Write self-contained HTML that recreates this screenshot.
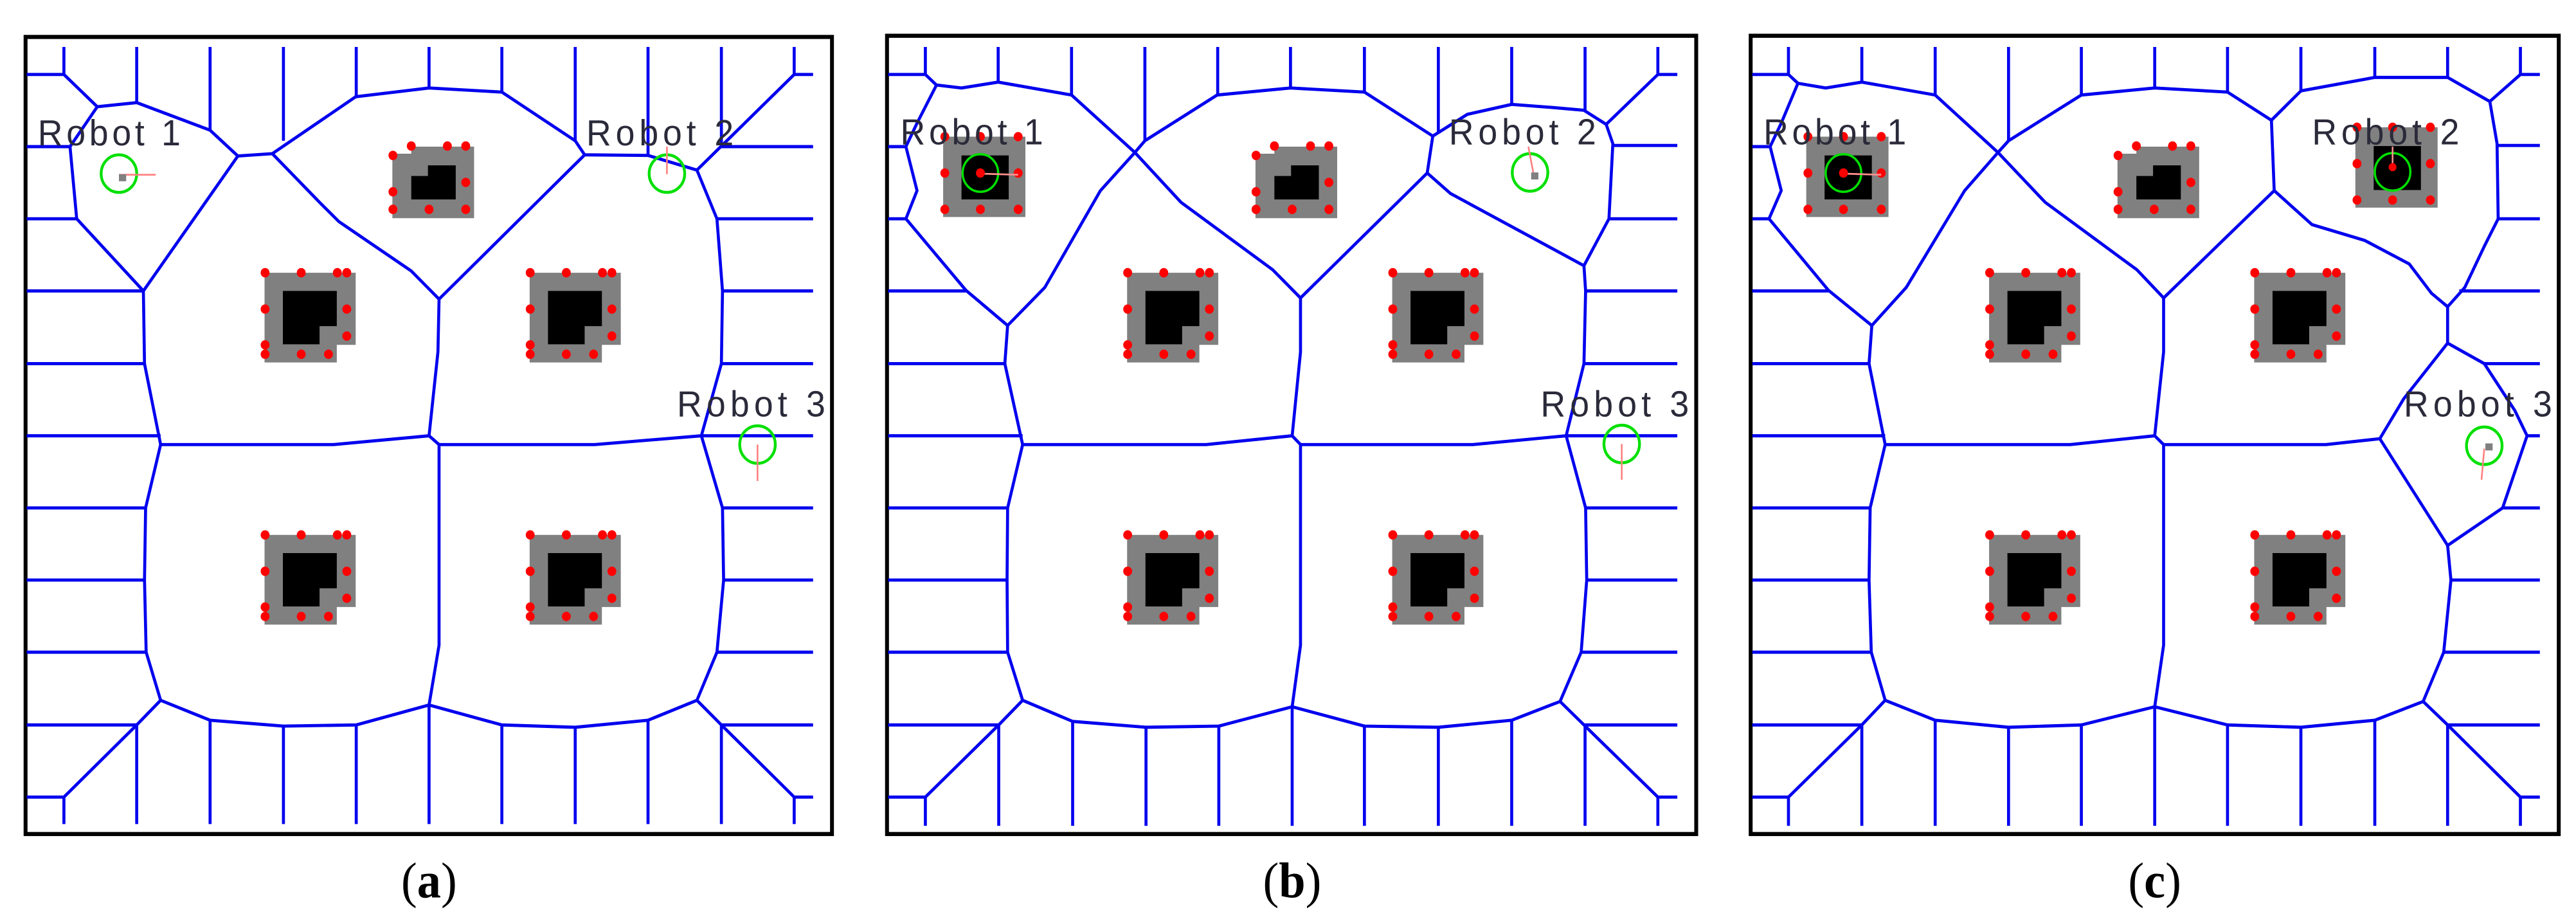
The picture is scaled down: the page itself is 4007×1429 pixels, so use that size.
<!DOCTYPE html>
<html><head><meta charset="utf-8"><style>
html,body{margin:0;padding:0;background:#fff;}
svg{display:block;}
</style></head><body>
<svg xmlns="http://www.w3.org/2000/svg" width="4007" height="1429" viewBox="0 0 4007 1429">
<defs>
<g id="L">
<path d="M0,0H164V123H130V153H0Z" fill="#808080"/>
<path d="M33,31H130V91H99V122H33Z" fill="#000"/>
<g fill="#f00"><circle cx="1" cy="0" r="8"/><circle cx="66" cy="0" r="8"/><circle cx="131" cy="0" r="8"/><circle cx="148" cy="0" r="8"/><circle cx="1" cy="62" r="8"/><circle cx="148" cy="62" r="8"/><circle cx="148" cy="108" r="8"/><circle cx="1" cy="123" r="8"/><circle cx="1" cy="139" r="8"/><circle cx="66" cy="139" r="8"/><circle cx="115" cy="139" r="8"/></g>
</g>
<g id="T">
<path d="M0,12H34V0H147V122H0Z" fill="#808080"/>
<path d="M34,50H64V32H114V90H34Z" fill="#000"/>
<g fill="#f00"><circle cx="1" cy="15" r="8"/><circle cx="34" cy="-1" r="8"/><circle cx="99" cy="-1" r="8"/><circle cx="132" cy="-1" r="8"/><circle cx="132" cy="61" r="8"/><circle cx="1" cy="77" r="8"/><circle cx="1" cy="107" r="8"/><circle cx="66" cy="107" r="8"/><circle cx="132" cy="107" r="8"/></g>
</g>
<g id="R">
<rect x="0" y="0" width="148" height="137" fill="#808080"/>
<rect x="33" y="32" width="85" height="75" fill="#000"/>
<g fill="#f00"><circle cx="3" cy="0" r="8"/><circle cx="67" cy="0" r="8"/><circle cx="135" cy="0" r="8"/><circle cx="3" cy="62" r="8"/><circle cx="135" cy="62" r="8"/><circle cx="3" cy="124" r="8"/><circle cx="67" cy="124" r="8"/><circle cx="135" cy="124" r="8"/></g>
</g>
</defs>

<!-- ============ PANEL A ============ -->
<g transform="translate(0,0) scale(0.8645,0.912)">
<rect x="46" y="63" width="1451" height="1359" fill="#fff" stroke="#000" stroke-width="7"/>
<use href="#T" x="706" y="250"/>
<use href="#L" x="476" y="465"/><use href="#L" x="953" y="465"/>
<use href="#L" x="476" y="912"/><use href="#L" x="953" y="912"/>
<g fill="none" stroke="#0000ee" stroke-width="5.4" stroke-linejoin="round">
<polyline points="48,127 115,127 175,182 246,175 378,222 428,266 490,262 640,165 772,150 903,157 1035,240 1052,264 1166,265 1254,290 1429,127 1463,127"/>
<polyline points="1254,290 1290,373 1300,496 1298,620 1262,743 1300,866 1302,989 1290,1112 1254,1194 1298,1236 1429,1359 1463,1359"/>
<polyline points="1254,1194 1166,1228 1035,1240 903,1236 772,1202 641,1236 510,1238 378,1228 289,1194 246,1236 115,1359 48,1359"/>
<polyline points="289,1194 263,1112 260,989 262,866 289,758 260,620 258,496 138,373 126,250 175,182"/>
<polyline points="258,496 428,266"/>
<polyline points="490,262 575,345 610,378 740,462 790,510 1052,264"/>
<polyline points="790,510 788,600 772,743 790,758 790,1100 772,1202"/>
<polyline points="289,758 600,758 772,743"/>
<polyline points="790,758 1070,758 1262,743"/>
<path d="M115,80V127M246,80V175M378,80V222M510,80V240M641,80V165M772,80V150M903,80V157M1035,80V240M1166,80V265M1298,80V250M1429,80V127"/>
<path d="M115,1405V1359M246,1405V1236M378,1405V1228M510,1405V1238M641,1405V1236M772,1405V1202M903,1405V1236M1035,1405V1240M1166,1405V1228M1298,1405V1236M1429,1405V1359"/>
<path d="M48,250H126M48,373H138M48,496H258M48,620H260M48,743H289M48,866H262M48,989H260M48,1112H263M48,1236H246"/>
<path d="M1298,250H1463M1290,373H1463M1300,496H1463M1298,620H1463M1262,743H1463M1300,866H1463M1302,989H1463M1290,1112H1463M1298,1236H1463"/>
</g>
<circle cx="214" cy="296" r="32" fill="none" stroke="#00e000" stroke-width="5"/>
<line x1="214" y1="298" x2="280" y2="298" stroke="#ff8080" stroke-width="3"/>
<rect x="214" y="297" width="13" height="12" fill="#808080"/>
<circle cx="1200" cy="296" r="32" fill="none" stroke="#00e000" stroke-width="5"/>
<line x1="1200" y1="250" x2="1200" y2="297" stroke="#ff8080" stroke-width="3"/>
<circle cx="1363" cy="758" r="32" fill="none" stroke="#00e000" stroke-width="5"/>
<line x1="1363" y1="758" x2="1363" y2="820" stroke="#ff8080" stroke-width="3"/>
<g font-family="Liberation Sans, sans-serif" font-size="62" fill="#2a2a3a">
<text x="68" y="248" textLength="257" lengthAdjust="spacing">Robot 1</text>
<text x="1055" y="248" textLength="265" lengthAdjust="spacing">Robot 2</text>
<text x="1218" y="710" textLength="267" lengthAdjust="spacing">Robot 3</text>
</g>
<text x="772" y="1530" text-anchor="middle" font-family="Liberation Serif, serif" font-size="86" fill="#000">(<tspan font-weight="bold">a</tspan>)</text>
</g>

<!-- ============ PANEL B ============ -->
<g transform="translate(1340,0) scale(0.8645,0.912)">
<rect x="46" y="61" width="1456" height="1361" fill="#fff" stroke="#000" stroke-width="7"/>
<use href="#T" x="709" y="250"/>
<use href="#L" x="478" y="465"/><use href="#L" x="955" y="465"/>
<use href="#L" x="478" y="912"/><use href="#L" x="955" y="912"/>
<use href="#R" x="147" y="233"/>
<g fill="none" stroke="#0000ee" stroke-width="5.4" stroke-linejoin="round">
<polyline points="48,127 115,127 135,145 180,150 246,140 378,162 492,260 575,345 740,460 790,508 1018,295 1028,232 905,157 772,150 640,162 510,240 492,260"/>
<polyline points="1028,232 1090,195 1170,178 1240,183 1300,188 1340,212 1433,127 1468,127"/>
<polyline points="1340,212 1352,245 1345,373 1300,453 1060,330 1018,295"/>
<polyline points="1300,453 1303,496 1300,620 1268,743 1303,866 1305,989 1295,1112 1257,1196 1300,1236 1433,1359 1468,1359"/>
<polyline points="1257,1196 1170,1228 1038,1240 905,1238 775,1205 643,1238 512,1240 380,1230 290,1194 247,1236 115,1359 48,1359"/>
<polyline points="290,1194 263,1112 262,989 263,866 290,758 258,620 263,555 188,495 80,373 100,325 80,250 100,210 135,145"/>
<polyline points="263,555 330,490 430,325 492,260"/>
<polyline points="790,508 790,600 775,743 790,758 790,1100 775,1205"/>
<polyline points="290,758 620,758 775,743"/>
<polyline points="790,758 1100,758 1268,743"/>
<path d="M115,80V127M246,80V140M378,80V162M510,80V240M641,80V162M772,80V150M905,80V157M1038,80V225M1170,80V178M1302,80V188M1433,80V127"/>
<path d="M115,1408V1359M247,1408V1236M380,1408V1230M512,1408V1240M643,1408V1238M775,1408V1205M905,1408V1238M1038,1408V1240M1170,1408V1228M1302,1408V1236M1433,1408V1359"/>
<path d="M48,250H80M48,373H80M48,496H188M48,620H258M48,743H290M48,866H263M48,989H262M48,1112H263M48,1236H247"/>
<path d="M1352,248H1468M1345,373H1468M1303,496H1468M1300,620H1468M1268,743H1468M1303,866H1468M1305,989H1468M1295,1112H1468M1300,1236H1468"/>
</g>
<circle cx="214" cy="295" r="32" fill="none" stroke="#00e000" stroke-width="4"/>
<line x1="214" y1="296" x2="282" y2="298" stroke="#ff9090" stroke-width="3"/>
<circle cx="214" cy="295" r="8" fill="#f00"/>
<circle cx="1203" cy="294" r="32" fill="none" stroke="#00e000" stroke-width="5"/>
<line x1="1200" y1="250" x2="1210" y2="300" stroke="#ff8080" stroke-width="3"/>
<rect x="1205" y="294" width="13" height="12" fill="#808080"/>
<circle cx="1368" cy="757" r="32" fill="none" stroke="#00e000" stroke-width="5"/>
<line x1="1368" y1="757" x2="1368" y2="818" stroke="#ff8080" stroke-width="3"/>
<g font-family="Liberation Sans, sans-serif" font-size="62" fill="#2a2a3a">
<text x="70" y="246" textLength="257" lengthAdjust="spacing">Robot 1</text>
<text x="1057" y="246" textLength="265" lengthAdjust="spacing">Robot 2</text>
<text x="1222" y="710" textLength="267" lengthAdjust="spacing">Robot 3</text>
</g>
<text x="775" y="1530" text-anchor="middle" font-family="Liberation Serif, serif" font-size="86" fill="#000">(<tspan font-weight="bold">b</tspan>)</text>
</g>

<!-- ============ PANEL C ============ -->
<g transform="translate(2667,0) scale(0.8645,0.912)">
<rect x="65" y="61" width="1454" height="1361" fill="#fff" stroke="#000" stroke-width="7"/>
<use href="#T" x="725" y="250"/>
<use href="#L" x="494" y="465"/><use href="#L" x="971" y="465"/>
<use href="#L" x="494" y="912"/><use href="#L" x="971" y="912"/>
<use href="#R" x="165" y="233"/>
<use href="#R" x="1153" y="217"/>
<g fill="none" stroke="#0000ee" stroke-width="5.4" stroke-linejoin="round">
<polyline points="68,127 133,127 150,142 200,150 265,140 397,162 510,260 595,345 760,460 808,508 1007,325 1002,205 923,157 792,150 660,162 529,240 510,260"/>
<polyline points="1002,205 1055,155 1188,132 1319,132 1395,173 1450,127 1485,127"/>
<polyline points="1007,325 1075,383 1170,410 1250,450 1290,500 1319,523 1350,490 1385,420 1410,373 1408,245 1395,173"/>
<polyline points="1319,523 1319,585 1385,620 1440,700 1462,743 1418,866 1319,930 1197,748 1240,680 1319,585"/>
<polyline points="1319,930 1325,989 1312,1112 1275,1196 1319,1236 1450,1359 1485,1359"/>
<polyline points="1275,1196 1188,1228 1055,1240 923,1236 792,1205 660,1236 529,1240 397,1228 307,1194 265,1236 133,1359 68,1359"/>
<polyline points="307,1194 282,1112 278,989 280,866 307,758 278,620 283,555 205,495 98,373 120,325 100,250 120,210 150,142"/>
<polyline points="283,555 345,490 450,325 510,260"/>
<polyline points="808,508 808,600 792,743 808,758 808,1100 792,1205"/>
<polyline points="307,758 640,758 792,743"/>
<polyline points="808,758 1100,758 1197,748"/>
<path d="M133,80V127M265,80V140M397,80V162M529,80V240M660,80V162M792,80V150M923,80V157M1055,80V155M1188,80V132M1319,80V132M1450,80V127"/>
<path d="M133,1408V1359M265,1408V1236M397,1408V1228M529,1408V1240M660,1408V1236M792,1408V1205M923,1408V1236M1055,1408V1240M1188,1408V1228M1319,1408V1236M1450,1408V1359"/>
<path d="M68,250H100M68,373H98M68,496H205M68,620H278M68,743H307M68,866H280M68,989H278M68,1112H282M68,1236H265"/>
<path d="M1408,248H1485M1410,373H1485M1340,496H1485M1385,620H1485M1462,743H1485M1418,866H1485M1325,989H1485M1312,1112H1485M1319,1236H1485"/>
</g>
<circle cx="232" cy="295" r="32" fill="none" stroke="#00e000" stroke-width="4"/>
<line x1="232" y1="296" x2="300" y2="298" stroke="#ff9090" stroke-width="3"/>
<circle cx="232" cy="295" r="8" fill="#f00"/>
<circle cx="1220" cy="293" r="32" fill="none" stroke="#00e000" stroke-width="4"/>
<line x1="1220" y1="250" x2="1220" y2="290" stroke="#ff9090" stroke-width="3"/>
<circle cx="1220" cy="285" r="7" fill="#f00"/>
<circle cx="1385" cy="760" r="32" fill="none" stroke="#00e000" stroke-width="5"/>
<line x1="1385" y1="765" x2="1380" y2="818" stroke="#ff8080" stroke-width="3"/>
<rect x="1387" y="756" width="13" height="12" fill="#808080"/>
<g font-family="Liberation Sans, sans-serif" font-size="62" fill="#2a2a3a">
<text x="88" y="246" textLength="257" lengthAdjust="spacing">Robot 1</text>
<text x="1075" y="246" textLength="265" lengthAdjust="spacing">Robot 2</text>
<text x="1240" y="710" textLength="267" lengthAdjust="spacing">Robot 3</text>
</g>
<text x="792" y="1530" text-anchor="middle" font-family="Liberation Serif, serif" font-size="86" fill="#000">(<tspan font-weight="bold">c</tspan>)</text>
</g>
</svg>
</body></html>
